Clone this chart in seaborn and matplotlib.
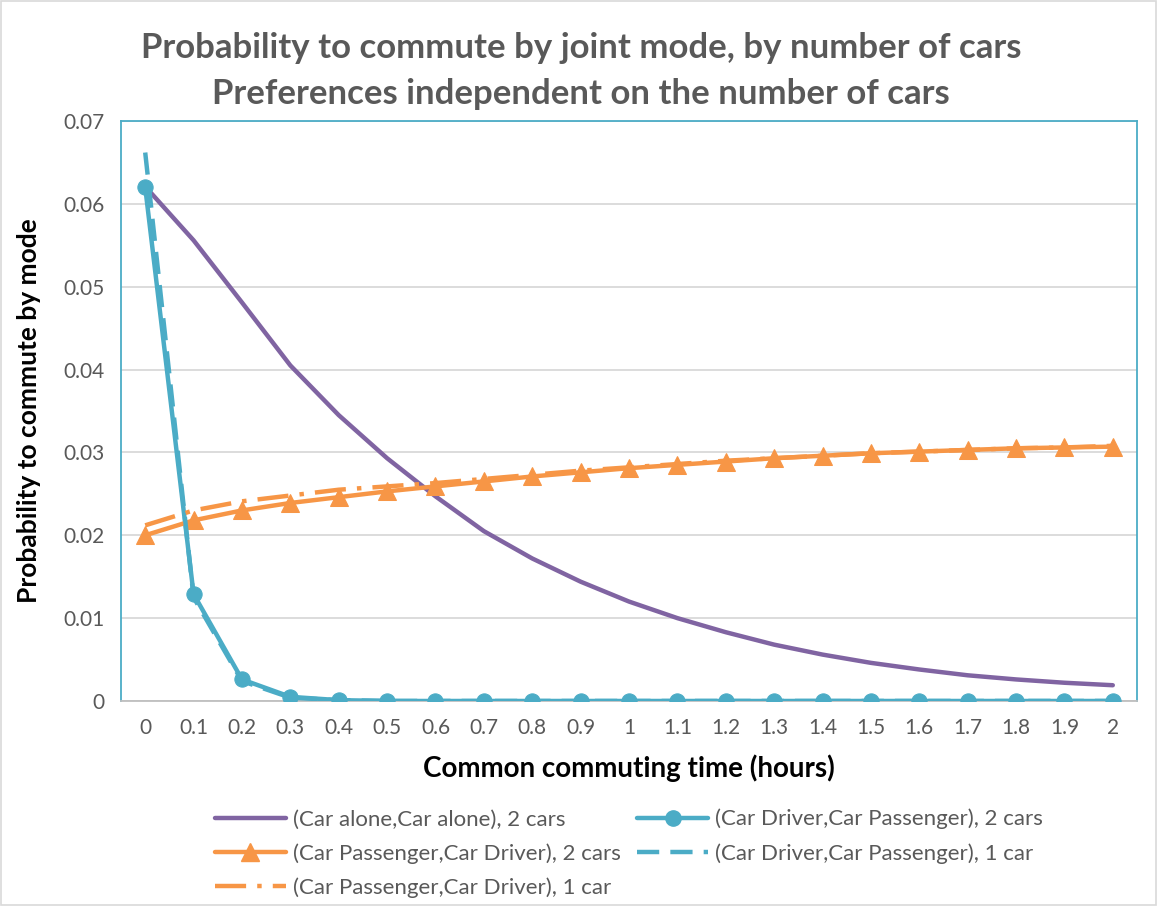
import numpy as np
import pandas as pd
import seaborn as sns
import matplotlib.pyplot as plt
from matplotlib.lines import Line2D

hours = ['0', '0.1', '0.2', '0.3', '0.4', '0.5', '0.6', '0.7', '0.8', '0.9', '1',
         '1.1', '1.2', '1.3', '1.4', '1.5', '1.6', '1.7', '1.8', '1.9', '2']

alone_2cars = [0.0621, 0.0556, 0.0481, 0.0405, 0.0345, 0.0293, 0.0247, 0.0205, 0.0172, 0.0144,
               0.0120, 0.0100, 0.0083, 0.0068, 0.0056, 0.0046, 0.0038, 0.0031, 0.0026, 0.0022, 0.0019]
drv_pas_2cars = [0.0620, 0.0129, 0.0026, 0.0005, 0.0001, 0.0, 0.0, 0.0, 0.0, 0.0,
                 0.0, 0.0, 0.0, 0.0, 0.0, 0.0, 0.0, 0.0, 0.0, 0.0, 0.0]
pas_drv_2cars = [0.0200, 0.0218, 0.0230, 0.0239, 0.0246, 0.0253, 0.0259, 0.0265, 0.0271, 0.0276,
                 0.0281, 0.0285, 0.0289, 0.0293, 0.0296, 0.0299, 0.0301, 0.0303, 0.0305, 0.0306, 0.0307]
drv_pas_1car = [0.0662, 0.0125, 0.0024, 0.0004, 0.0001, 0.0, 0.0, 0.0, 0.0, 0.0,
                0.0, 0.0, 0.0, 0.0, 0.0, 0.0, 0.0, 0.0, 0.0, 0.0, 0.0]
pas_drv_1car = [0.0212, 0.0230, 0.0241, 0.0248, 0.0255, 0.0259, 0.0263, 0.0268, 0.0273, 0.0278,
                0.0282, 0.0286, 0.0290, 0.0293, 0.0296, 0.0299, 0.0301, 0.0303, 0.0305, 0.0306, 0.0308]

labels = ['(Car alone,Car alone), 2 cars',
          '(Car Driver,Car Passenger), 2 cars',
          '(Car Passenger,Car Driver), 2 cars',
          '(Car Driver,Car Passenger), 1 car',
          '(Car Passenger,Car Driver), 1 car']

purple = '#8064A2'
teal = '#4BACC6'
orange = '#F79646'
grey = '#595959'

sns.set_style('white')
plt.rcParams['font.family'] = ['Lato', 'DejaVu Sans']

fig = plt.figure(figsize=(11.57, 9.06), dpi=100)
ax = fig.add_axes([0.1046, 0.2263, 0.8781, 0.6401])

pos = np.arange(len(hours))
df = pd.DataFrame({'pos': pos, 'a': alone_2cars, 'b': drv_pas_2cars, 'c': pas_drv_2cars,
                   'd': drv_pas_1car, 'e': pas_drv_1car})

lw = 3.2
dash_1car = (0, (5, 2.5))
dashdot_1car = (0, (7, 2.5, 1, 2.5))
sns.lineplot(data=df, x='pos', y='a', ax=ax, color=purple, lw=lw, zorder=3)
sns.lineplot(data=df, x='pos', y='b', ax=ax, color=teal, lw=lw, marker='o', markersize=11,
             markeredgecolor=teal, zorder=4)
sns.lineplot(data=df, x='pos', y='c', ax=ax, color=orange, lw=lw, marker='^', markersize=13,
             markeredgecolor=orange, zorder=4)
sns.lineplot(data=df, x='pos', y='d', ax=ax, color=teal, lw=lw, zorder=5,
             dashes=False, linestyle=dash_1car)
sns.lineplot(data=df, x='pos', y='e', ax=ax, color=orange, lw=lw, zorder=5,
             dashes=False, linestyle=dashdot_1car)

ax.set_xlim(-0.5, len(hours) - 0.5)
ax.set_ylim(0, 0.07)
ax.set_xticks(pos)
ax.set_xticklabels(hours)
ax.set_yticks(np.arange(0, 0.0701, 0.01))
ax.set_yticklabels(['0'] + ['%.2f' % v for v in np.arange(0.01, 0.0701, 0.01)])
ax.tick_params(axis='both', length=0, labelsize=15, labelcolor=grey, pad=12)
ax.yaxis.grid(True, color='#D9D9D9', lw=1.3)
ax.set_axisbelow(True)
for side in ['left', 'top', 'right']:
    ax.spines[side].set_color(teal)
    ax.spines[side].set_linewidth(1.3)
ax.spines['bottom'].set_color('#BFBFBF')
ax.spines['bottom'].set_linewidth(1.3)

ax.set_xlabel('Common commuting time (hours)', fontsize=20, fontweight='bold', color='black', labelpad=12)
ax.set_ylabel('Probability to commute by mode', fontsize=19, fontweight='bold', color='black', labelpad=16)

fig.text(0.502, 0.947, 'Probability to commute by joint mode, by number of cars',
         ha='center', va='center', fontsize=25, fontweight='bold', color=grey)
fig.text(0.502, 0.896, 'Preferences independent on the number of cars',
         ha='center', va='center', fontsize=25, fontweight='bold', color=grey)

handles = [
    Line2D([], [], color=purple, lw=lw),
    Line2D([], [], color=teal, lw=lw, marker='o', markersize=11),
    Line2D([], [], color=orange, lw=lw, marker='^', markersize=13),
    Line2D([], [], color=teal, lw=lw, linestyle=dash_1car),
    Line2D([], [], color=orange, lw=lw, linestyle=dashdot_1car),
]
order = [0, 2, 4, 1, 3]
fig.legend([handles[i] for i in order], [labels[i] for i in order], ncol=2,
           loc='upper left', bbox_to_anchor=(0.178, 0.117), frameon=False,
           fontsize=16, labelcolor=grey, handlelength=3.2, handletextpad=0.3,
           columnspacing=0.75, labelspacing=0.62, borderaxespad=0)

fig.patches.append(plt.Rectangle((0.001, 0.001), 0.998, 0.998, transform=fig.transFigure,
                                 fill=False, edgecolor='#D9D9D9', lw=1.2))

fig.savefig('out.png', dpi=100)
